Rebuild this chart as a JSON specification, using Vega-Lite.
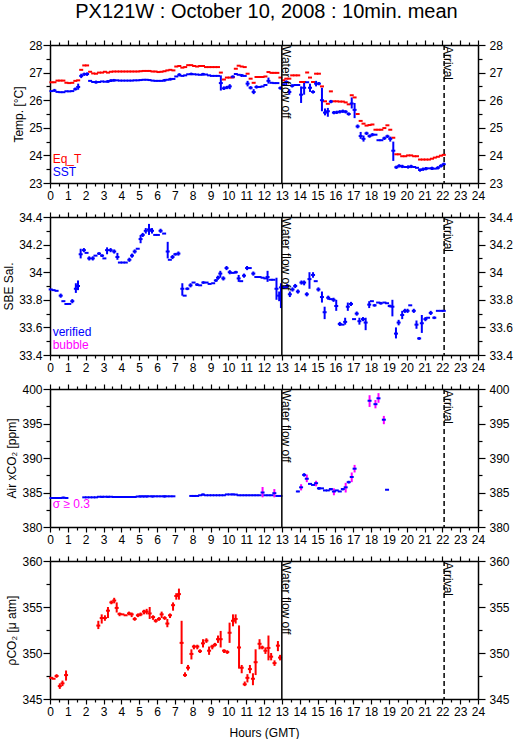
{
"$schema":"https://vega.github.io/schema/vega-lite/v6.json",
"background":"white",
"padding":{"left":2,"top":2,"right":3,"bottom":3},
"title":{"text":"PX121W : October 10, 2008 : 10min. mean","font":"Liberation Sans","fontSize":20,"fontWeight":"normal","color":"black","anchor":"middle","offset":17,"dx":9},
"bounds":"flush",
"spacing":34,
"config":{
 "view":{"stroke":null},
 "axis":{"domainColor":"black","domainWidth":1.5,"tickColor":"black","tickWidth":1.2,"labelColor":"black","titleColor":"black","labelFont":"Liberation Sans","titleFont":"Liberation Sans","labelFontSize":12,"titleFontSize":12,"titleFontWeight":"normal","grid":false,"labelOverlap":false,"labelFlush":false,"labelBound":false,"labelPadding":1,"titlePadding":3},
 "text":{"font":"Liberation Sans"}
},
"datasets":{
"events":[{"t":13,"label":"Water flow off"},{"t":22.1,"label":"Arrival"}],
"temp":[
{"t":0.08,"eq":26.65,"sst":26.33},
{"t":0.25,"eq":26.65,"sst":26.35,"lo":26.3,"hi":26.41},
{"t":0.42,"eq":26.71,"sst":26.3},
{"t":0.58,"eq":26.71,"sst":26.29},
{"t":0.75,"eq":26.71,"sst":26.29},
{"t":0.92,"eq":26.63,"sst":26.32},
{"t":1.08,"eq":26.62,"sst":26.32},
{"t":1.25,"eq":26.63,"sst":26.33},
{"t":1.42,"eq":26.7,"sst":26.4,"lo":26.35,"hi":26.46},
{"t":1.58,"eq":26.72,"sst":26.48,"lo":26.38,"hi":26.6},
{"t":1.75,"eq":27.1,"sst":26.88,"lo":26.8,"hi":26.96},
{"t":1.92,"eq":27.26,"sst":26.94,"lo":26.88,"hi":27.0},
{"t":2.08,"eq":27.26,"sst":26.95,"lo":26.88,"hi":27.01},
{"t":2.25,"eq":27.03,"sst":26.7},
{"t":2.42,"eq":26.97,"sst":26.66},
{"t":2.58,"eq":26.96,"sst":26.65,"lo":26.6,"hi":26.71},
{"t":2.75,"eq":27.0,"sst":26.66},
{"t":2.92,"eq":27.0,"sst":26.68},
{"t":3.08,"eq":27.03,"sst":26.67},
{"t":3.25,"eq":27.0,"sst":26.68,"lo":26.63,"hi":26.73},
{"t":3.42,"eq":27.03,"sst":26.71,"lo":26.66,"hi":26.76},
{"t":3.58,"eq":27.04,"sst":26.72,"lo":26.67,"hi":26.77},
{"t":3.75,"eq":27.04,"sst":26.72},
{"t":3.92,"eq":27.04,"sst":26.71},
{"t":4.08,"eq":27.04,"sst":26.71},
{"t":4.25,"eq":27.04,"sst":26.71},
{"t":4.42,"eq":27.04,"sst":26.71},
{"t":4.58,"eq":27.04,"sst":26.71},
{"t":4.75,"eq":27.04,"sst":26.72},
{"t":4.92,"eq":27.04,"sst":26.72},
{"t":5.08,"eq":27.05,"sst":26.73},
{"t":5.25,"eq":27.06,"sst":26.74},
{"t":5.42,"eq":27.06,"sst":26.74},
{"t":5.58,"eq":27.06,"sst":26.73},
{"t":5.75,"eq":27.04,"sst":26.71},
{"t":5.92,"eq":27.04,"sst":26.7},
{"t":6.08,"eq":27.02,"sst":26.7},
{"t":6.25,"eq":27.03,"sst":26.7},
{"t":6.42,"eq":27.05,"sst":26.72,"lo":26.67,"hi":26.77},
{"t":6.58,"eq":27.08,"sst":26.74},
{"t":6.75,"eq":27.1,"sst":26.76,"lo":26.71,"hi":26.81},
{"t":6.92,"eq":27.08,"sst":26.77},
{"t":7.08,"eq":27.22,"sst":26.86},
{"t":7.25,"eq":27.24,"sst":26.92,"lo":26.86,"hi":26.98},
{"t":7.42,"eq":27.18,"sst":26.88},
{"t":7.58,"eq":27.2,"sst":26.9},
{"t":7.75,"eq":27.27,"sst":26.94},
{"t":7.92,"eq":27.27,"sst":26.95,"lo":26.9,"hi":27.0},
{"t":8.08,"eq":27.24,"sst":26.94},
{"t":8.25,"eq":27.22,"sst":26.93},
{"t":8.42,"eq":27.24,"sst":26.92},
{"t":8.58,"eq":27.24,"sst":26.94,"lo":26.89,"hi":26.99},
{"t":8.75,"eq":27.2,"sst":26.93},
{"t":8.92,"eq":27.2,"sst":26.9},
{"t":9.08,"eq":27.2,"sst":26.88},
{"t":9.25,"eq":27.2,"sst":26.88},
{"t":9.42,"eq":27.2,"sst":26.88},
{"t":9.58,"eq":27.0,"sst":26.62,"lo":26.35,"hi":26.9},
{"t":9.75,"eq":26.75,"sst":26.43,"lo":26.37,"hi":26.5},
{"t":9.92,"eq":26.82,"sst":26.46,"lo":26.4,"hi":26.52},
{"t":10.08,"eq":26.82,"sst":26.5,"lo":26.4,"hi":26.58},
{"t":10.25,"eq":26.83,"sst":26.85,"lo":26.79,"hi":26.9},
{"t":10.42,"eq":27.14,"sst":26.95},
{"t":10.58,"eq":27.25,"sst":26.92},
{"t":10.75,"eq":27.22,"sst":26.9,"lo":26.84,"hi":26.95},
{"t":10.92,"eq":27.2,"sst":26.88},
{"t":11.08,"eq":26.96,"sst":26.6,"lo":26.5,"hi":26.7},
{"t":11.25,"eq":26.78,"sst":26.45,"lo":26.39,"hi":26.51},
{"t":11.42,"eq":26.63,"sst":26.3,"lo":26.22,"hi":26.4},
{"t":11.58,"eq":26.84,"sst":26.48,"lo":26.42,"hi":26.54},
{"t":11.75,"eq":26.84,"sst":26.48},
{"t":11.92,"eq":26.84,"sst":26.5},
{"t":12.08,"eq":26.86,"sst":26.55},
{"t":12.25,"eq":27.02,"sst":26.7,"lo":26.6,"hi":26.82},
{"t":12.42,"eq":26.99,"sst":26.63},
{"t":12.58,"eq":26.99,"sst":26.62},
{"t":12.75,"eq":26.99,"sst":26.62},
{"t":12.92,"eq":26.82,"sst":26.44,"lo":26.38,"hi":26.5},
{"t":13.08,"eq":26.72,"sst":26.58},
{"t":13.25,"eq":26.78,"sst":26.66,"lo":26.52,"hi":26.72},
{"t":13.42,"eq":26.78,"sst":26.3,"lo":26.2,"hi":26.4},
{"t":13.58,"eq":26.9,"sst":26.52,"lo":26.46,"hi":26.58},
{"t":13.75,"eq":26.9,"sst":26.55},
{"t":13.92,"eq":26.9,"sst":26.55},
{"t":14.08,"eq":26.66,"sst":26.2,"lo":25.9,"hi":26.5},
{"t":14.25,"eq":26.66,"sst":26.45,"lo":26.2,"hi":26.65},
{"t":14.42,"eq":27.0,"sst":26.65},
{"t":14.58,"eq":26.82,"sst":26.45,"lo":26.3,"hi":26.6},
{"t":14.75,"eq":26.66,"sst":26.3,"lo":26.24,"hi":26.36},
{"t":14.92,"eq":26.96,"sst":26.6,"lo":26.5,"hi":26.7},
{"t":15.08,"eq":26.96,"sst":26.6,"lo":26.54,"hi":26.66},
{"t":15.25,"eq":26.5,"sst":26.0,"lo":25.6,"hi":26.45},
{"t":15.42,"eq":25.96,"sst":25.55,"lo":25.45,"hi":25.7},
{"t":15.58,"eq":25.87,"sst":25.6,"lo":25.4,"hi":25.72},
{"t":15.75,"eq":26.32,"sst":25.95,"lo":25.89,"hi":26.01},
{"t":15.92,"eq":25.96,"sst":25.55,"lo":25.49,"hi":25.61},
{"t":16.08,"eq":25.96,"sst":25.56,"lo":25.5,"hi":25.62},
{"t":16.25,"eq":25.95,"sst":25.58,"lo":25.52,"hi":25.64},
{"t":16.42,"eq":25.95,"sst":25.6,"lo":25.54,"hi":25.66},
{"t":16.58,"eq":25.92,"sst":25.58,"lo":25.52,"hi":25.64},
{"t":16.75,"eq":25.85,"sst":25.5,"lo":25.44,"hi":25.56},
{"t":16.92,"eq":26.18,"sst":25.88,"lo":25.7,"hi":26.1},
{"t":17.08,"eq":26.1,"sst":25.65,"lo":25.35,"hi":25.9},
{"t":17.25,"eq":25.5,"sst":25.05,"lo":24.98,"hi":25.12},
{"t":17.42,"eq":25.25,"sst":24.7,"lo":24.6,"hi":24.85},
{"t":17.58,"eq":25.15,"sst":24.6,"lo":24.5,"hi":24.72},
{"t":17.75,"eq":25.08,"sst":24.8,"lo":24.74,"hi":24.86},
{"t":17.92,"eq":25.1,"sst":24.7,"lo":24.64,"hi":24.76},
{"t":18.08,"eq":25.12,"sst":24.75,"lo":24.69,"hi":24.81},
{"t":18.25,"eq":24.93,"sst":24.75},
{"t":18.42,"eq":24.93,"sst":24.55},
{"t":18.58,"eq":24.93,"sst":24.55},
{"t":18.75,"eq":24.99,"sst":24.62,"lo":24.56,"hi":24.68},
{"t":18.92,"eq":25.09,"sst":24.69,"lo":24.63,"hi":24.75},
{"t":19.08,"eq":24.93,"sst":24.6,"lo":24.5,"hi":24.68},
{"t":19.25,"eq":24.64,"sst":24.17,"lo":23.8,"hi":24.5},
{"t":19.42,"eq":24.04,"sst":23.57,"lo":23.51,"hi":23.63},
{"t":19.58,"eq":24.04,"sst":23.62,"lo":23.56,"hi":23.68},
{"t":19.75,"eq":23.97,"sst":23.6,"lo":23.54,"hi":23.66},
{"t":19.92,"eq":23.97,"sst":23.58},
{"t":20.08,"eq":24.0,"sst":23.58,"lo":23.52,"hi":23.64},
{"t":20.25,"eq":24.0,"sst":23.6,"lo":23.54,"hi":23.66},
{"t":20.42,"eq":23.97,"sst":23.58},
{"t":20.58,"eq":23.97,"sst":23.55},
{"t":20.75,"eq":23.85,"sst":23.47,"lo":23.41,"hi":23.53},
{"t":20.92,"eq":23.85,"sst":23.5,"lo":23.44,"hi":23.56},
{"t":21.08,"eq":23.85,"sst":23.52,"lo":23.46,"hi":23.58},
{"t":21.25,"eq":23.85,"sst":23.53},
{"t":21.42,"eq":23.88,"sst":23.53,"lo":23.47,"hi":23.59},
{"t":21.58,"eq":23.92,"sst":23.52},
{"t":21.75,"eq":23.95,"sst":23.55,"lo":23.49,"hi":23.61},
{"t":21.92,"eq":23.99,"sst":23.62,"lo":23.56,"hi":23.68},
{"t":22.08,"eq":24.02,"sst":23.68,"lo":23.62,"hi":23.74}
],
"sal":[
{"t":0.04,"v":33.875},{"t":0.2,"v":33.87},{"t":0.37,"v":33.865},
{"t":0.6,"v":33.83,"lo":33.815,"hi":33.845},{"t":0.75,"v":33.79},{"t":0.92,"v":33.77},
{"t":1.08,"v":33.77},{"t":1.25,"v":33.79,"lo":33.775,"hi":33.805},
{"t":1.45,"v":33.88,"lo":33.85,"hi":33.92},{"t":1.57,"v":33.9,"lo":33.87,"hi":33.94},
{"t":1.72,"v":34.13,"lo":34.1,"hi":34.17},{"t":1.9,"v":34.16,"lo":34.145,"hi":34.175},
{"t":2.05,"v":34.14},{"t":2.2,"v":34.1,"lo":34.085,"hi":34.115},{"t":2.4,"v":34.1,"lo":34.085,"hi":34.115},
{"t":2.55,"v":34.12},{"t":2.75,"v":34.135,"lo":34.125,"hi":34.145},{"t":2.92,"v":34.12,"lo":34.11,"hi":34.13},
{"t":3.05,"v":34.1},{"t":3.2,"v":34.16,"lo":34.13,"hi":34.18},{"t":3.4,"v":34.16,"lo":34.145,"hi":34.175},
{"t":3.6,"v":34.15,"lo":34.135,"hi":34.165},{"t":3.78,"v":34.11,"lo":34.09,"hi":34.14},
{"t":3.92,"v":34.07},{"t":4.08,"v":34.07},{"t":4.25,"v":34.07},
{"t":4.45,"v":34.09,"lo":34.075,"hi":34.105},{"t":4.6,"v":34.12,"lo":34.105,"hi":34.135},
{"t":4.75,"v":34.15,"lo":34.135,"hi":34.165},{"t":4.92,"v":34.17},
{"t":5.08,"v":34.24,"lo":34.21,"hi":34.27},{"t":5.2,"v":34.27,"lo":34.255,"hi":34.285},
{"t":5.37,"v":34.3,"lo":34.28,"hi":34.32},{"t":5.55,"v":34.31,"lo":34.27,"hi":34.35},
{"t":5.72,"v":34.3,"lo":34.28,"hi":34.32},{"t":5.9,"v":34.27},{"t":6.05,"v":34.27},
{"t":6.2,"v":34.3,"lo":34.285,"hi":34.315},{"t":6.4,"v":34.28},
{"t":6.6,"v":34.15,"lo":34.1,"hi":34.22},{"t":6.72,"v":34.09},
{"t":6.87,"v":34.11,"lo":34.095,"hi":34.125},{"t":7.03,"v":34.13,"lo":34.12,"hi":34.14},
{"t":7.2,"v":34.135,"lo":34.12,"hi":34.15},{"t":7.42,"v":33.88,"lo":33.83,"hi":33.92},
{"t":7.55,"v":33.83},{"t":7.7,"v":33.88,"lo":33.87,"hi":33.89},{"t":7.88,"v":33.905,"lo":33.89,"hi":33.92},
{"t":8.05,"v":33.925},{"t":8.25,"v":33.91,"lo":33.9,"hi":33.92},{"t":8.42,"v":33.905},
{"t":8.6,"v":33.925,"lo":33.915,"hi":33.935},{"t":8.78,"v":33.925},{"t":8.95,"v":33.915},
{"t":9.15,"v":33.92},{"t":9.3,"v":33.94,"lo":33.93,"hi":33.95},{"t":9.42,"v":33.96,"lo":33.945,"hi":33.975},
{"t":9.55,"v":33.99,"lo":33.96,"hi":34.01},{"t":9.72,"v":33.955,"lo":33.94,"hi":33.97},
{"t":9.9,"v":34.03,"lo":34.015,"hi":34.045},{"t":10.08,"v":34.0,"lo":33.985,"hi":34.015},
{"t":10.25,"v":33.995},{"t":10.42,"v":34.0,"lo":33.99,"hi":34.01},{"t":10.58,"v":33.955,"lo":33.93,"hi":33.98},
{"t":10.72,"v":33.935},{"t":10.88,"v":33.975,"lo":33.96,"hi":33.99},{"t":11.05,"v":34.03,"lo":34.015,"hi":34.045},
{"t":11.2,"v":34.03},{"t":11.4,"v":33.99,"lo":33.975,"hi":34.005},{"t":11.57,"v":33.965},
{"t":11.75,"v":33.965},{"t":11.92,"v":33.96},{"t":12.08,"v":33.955},
{"t":12.2,"v":33.965,"lo":33.93,"hi":34.01},{"t":12.37,"v":33.945},{"t":12.53,"v":33.945},
{"t":12.7,"v":33.88,"lo":33.8,"hi":33.96},{"t":12.85,"v":33.83,"lo":33.79,"hi":33.86},
{"t":12.95,"v":33.89,"lo":33.74,"hi":33.92},{"t":13.08,"v":33.89,"lo":33.88,"hi":33.9},
{"t":13.2,"v":33.89},{"t":13.3,"v":33.9,"lo":33.885,"hi":33.915},{"t":13.45,"v":33.84,"lo":33.82,"hi":33.86},
{"t":13.6,"v":33.875,"lo":33.86,"hi":33.89},{"t":13.75,"v":33.9,"lo":33.885,"hi":33.915},
{"t":13.9,"v":33.86,"lo":33.845,"hi":33.875},{"t":14.1,"v":33.925,"lo":33.91,"hi":33.94},
{"t":14.25,"v":33.925,"lo":33.905,"hi":33.94},{"t":14.4,"v":33.84,"lo":33.825,"hi":33.855},
{"t":14.55,"v":33.95,"lo":33.88,"hi":34.0},{"t":14.75,"v":33.98,"lo":33.96,"hi":34.0},
{"t":14.9,"v":33.935},{"t":15.05,"v":33.875,"lo":33.86,"hi":33.89},
{"t":15.25,"v":33.82,"lo":33.78,"hi":33.86},{"t":15.4,"v":33.71,"lo":33.66,"hi":33.75},
{"t":15.6,"v":33.815,"lo":33.8,"hi":33.83},{"t":15.75,"v":33.805},
{"t":15.9,"v":33.8,"lo":33.785,"hi":33.815},{"t":16.05,"v":33.755,"lo":33.72,"hi":33.8},
{"t":16.25,"v":33.625,"lo":33.61,"hi":33.64},{"t":16.4,"v":33.62},
{"t":16.55,"v":33.64,"lo":33.62,"hi":33.67},{"t":16.7,"v":33.75,"lo":33.72,"hi":33.78},
{"t":16.88,"v":33.77,"lo":33.755,"hi":33.785},{"t":17.05,"v":33.66},
{"t":17.2,"v":33.7,"lo":33.685,"hi":33.715},{"t":17.35,"v":33.645,"lo":33.62,"hi":33.67},
{"t":17.55,"v":33.66,"lo":33.645,"hi":33.675},{"t":17.7,"v":33.635,"lo":33.58,"hi":33.67},
{"t":17.9,"v":33.765,"lo":33.74,"hi":33.79},{"t":18.05,"v":33.79},
{"t":18.2,"v":33.76,"lo":33.75,"hi":33.77},{"t":18.4,"v":33.78},
{"t":18.55,"v":33.775,"lo":33.765,"hi":33.785},{"t":18.75,"v":33.78},{"t":18.9,"v":33.775},
{"t":19.05,"v":33.755,"lo":33.745,"hi":33.765},{"t":19.2,"v":33.75,"lo":33.68,"hi":33.8},
{"t":19.4,"v":33.555,"lo":33.52,"hi":33.6},{"t":19.55,"v":33.635,"lo":33.615,"hi":33.655},
{"t":19.75,"v":33.69,"lo":33.66,"hi":33.72},{"t":19.9,"v":33.72,"lo":33.705,"hi":33.735},
{"t":20.05,"v":33.72,"lo":33.705,"hi":33.735},{"t":20.2,"v":33.76},
{"t":20.4,"v":33.72,"lo":33.705,"hi":33.735},{"t":20.55,"v":33.62,"lo":33.59,"hi":33.65},
{"t":20.7,"v":33.52,"lo":33.51,"hi":33.53},{"t":20.85,"v":33.63,"lo":33.56,"hi":33.69},
{"t":21.05,"v":33.66,"lo":33.645,"hi":33.675},{"t":21.2,"v":33.67},
{"t":21.35,"v":33.705,"lo":33.69,"hi":33.72},{"t":21.55,"v":33.67,"lo":33.66,"hi":33.68},
{"t":21.75,"v":33.72},{"t":21.95,"v":33.72},{"t":22.08,"v":33.72}
],
"air":[
{"t":0.08,"v":384.2},{"t":0.25,"v":384.2},{"t":0.42,"v":384.2},{"t":0.58,"v":384.2},{"t":0.75,"v":384.25,"lo":384.1,"hi":384.4},{"t":0.92,"v":384.2},
{"t":1.92,"v":384.3},{"t":2.08,"v":384.3},{"t":2.25,"v":384.3},{"t":2.42,"v":384.3},{"t":2.58,"v":384.3},
{"t":2.75,"v":384.38},{"t":2.92,"v":384.38,"lo":384.2,"hi":384.5},{"t":3.08,"v":384.38},{"t":3.25,"v":384.38,"lo":384.2,"hi":384.5},{"t":3.42,"v":384.38},{"t":3.58,"v":384.35},{"t":3.75,"v":384.35},{"t":3.92,"v":384.35},{"t":4.08,"v":384.35},{"t":4.25,"v":384.35},{"t":4.42,"v":384.35},{"t":4.58,"v":384.35},{"t":4.75,"v":384.35,"lo":384.2,"hi":384.45},{"t":4.92,"v":384.42},
{"t":5.08,"v":384.45,"lo":384.25,"hi":384.55},{"t":5.25,"v":384.45,"lo":384.25,"hi":384.55},{"t":5.42,"v":384.45,"lo":384.25,"hi":384.55},{"t":5.58,"v":384.45},{"t":5.75,"v":384.45,"lo":384.25,"hi":384.55},{"t":5.92,"v":384.45},{"t":6.08,"v":384.45},{"t":6.25,"v":384.45},{"t":6.42,"v":384.45,"lo":384.25,"hi":384.6},{"t":6.58,"v":384.45},{"t":6.75,"v":384.45},{"t":6.92,"v":384.45},
{"t":7.92,"v":384.5},{"t":8.08,"v":384.5,"lo":384.35,"hi":384.6},{"t":8.25,"v":384.5},{"t":8.42,"v":384.6},{"t":8.58,"v":384.7,"lo":384.55,"hi":384.85},{"t":8.75,"v":384.6},{"t":8.92,"v":384.6},{"t":9.08,"v":384.6},{"t":9.25,"v":384.6},{"t":9.42,"v":384.6},{"t":9.58,"v":384.6},{"t":9.75,"v":384.6},{"t":9.92,"v":384.72},{"t":10.08,"v":384.72},{"t":10.25,"v":384.72,"lo":384.6,"hi":384.85},{"t":10.42,"v":384.7},{"t":10.58,"v":384.6},{"t":10.75,"v":384.6},{"t":10.92,"v":384.6},{"t":11.08,"v":384.6},{"t":11.25,"v":384.6},{"t":11.42,"v":384.6},{"t":11.58,"v":384.6},{"t":11.75,"v":384.6},
{"t":11.92,"v":385.0,"lo":384.3,"hi":385.8},{"t":12.08,"v":384.6},{"t":12.25,"v":384.6},{"t":12.42,"v":384.6},{"t":12.58,"v":384.9,"lo":384.3,"hi":385.5},{"t":12.75,"v":384.5},{"t":12.92,"v":384.5},
{"t":13.9,"v":385.15,"lo":385.05,"hi":385.25},{"t":14.08,"v":385.75,"lo":385.3,"hi":386.2},{"t":14.25,"v":387.55,"lo":387.3,"hi":387.8},{"t":14.4,"v":387.0,"lo":386.5,"hi":387.6},{"t":14.58,"v":386.25},{"t":14.75,"v":386.1},{"t":14.92,"v":386.35,"lo":385.9,"hi":386.7},{"t":15.08,"v":385.6,"lo":385.4,"hi":385.8},{"t":15.25,"v":385.6},{"t":15.42,"v":385.3},{"t":15.58,"v":385.3},{"t":15.75,"v":385.5,"lo":385.3,"hi":385.6},{"t":15.92,"v":385.15,"lo":384.6,"hi":385.6},{"t":16.08,"v":385.3},{"t":16.25,"v":385.15},{"t":16.42,"v":385.5,"lo":385.3,"hi":385.6},{"t":16.58,"v":385.75,"lo":385.0,"hi":386.4},{"t":16.75,"v":386.5,"lo":386.3,"hi":386.7},{"t":16.92,"v":387.25,"lo":386.5,"hi":387.9},{"t":17.08,"v":388.45,"lo":387.9,"hi":389.0},
{"t":17.92,"v":398.3,"lo":397.4,"hi":399.1},{"t":18.25,"v":397.8,"lo":397.2,"hi":398.4},{"t":18.42,"v":398.65,"lo":398.0,"hi":399.4},{"t":18.72,"v":395.55,"lo":394.9,"hi":396.1},{"t":18.9,"v":385.4}
],
"pco2":[
{"t":0.07,"v":347.3},{"t":0.2,"v":347.2},{"t":0.37,"v":347.5,"lo":347.3,"hi":347.7},{"t":0.55,"v":346.4,"lo":346.1,"hi":346.7},{"t":0.7,"v":346.7,"lo":346.4,"hi":347.0},{"t":0.9,"v":347.6,"lo":347.0,"hi":348.1},
{"t":2.71,"v":352.98,"lo":352.6,"hi":353.5},{"t":2.9,"v":353.8,"lo":353.2,"hi":354.2},{"t":3.08,"v":353.8,"lo":353.5,"hi":354.1},{"t":3.25,"v":354.6,"lo":353.8,"hi":355.0},{"t":3.44,"v":355.5,"lo":355.3,"hi":355.7},{"t":3.6,"v":355.7,"lo":355.4,"hi":356.0},{"t":3.74,"v":354.9,"lo":354.4,"hi":355.5},{"t":3.9,"v":354.25,"lo":354.0,"hi":354.4},
{"t":4.06,"v":354.2},{"t":4.24,"v":354.1},{"t":4.43,"v":354.3,"lo":354.1,"hi":354.5},{"t":4.58,"v":354.2,"lo":353.9,"hi":354.4},{"t":4.75,"v":353.7,"lo":353.5,"hi":353.9},{"t":4.93,"v":354.1,"lo":353.9,"hi":354.3},
{"t":5.08,"v":354.2,"lo":354.0,"hi":354.4},{"t":5.27,"v":354.5,"lo":354.2,"hi":354.7},{"t":5.42,"v":354.5,"lo":354.2,"hi":354.8},{"t":5.59,"v":354.3,"lo":353.7,"hi":355.0},{"t":5.78,"v":353.9,"lo":353.6,"hi":354.1},{"t":5.93,"v":353.5,"lo":353.3,"hi":353.7},
{"t":6.11,"v":353.7,"lo":353.5,"hi":353.9},{"t":6.26,"v":354.2,"lo":353.8,"hi":354.5},{"t":6.43,"v":353.8,"lo":353.6,"hi":354.0},{"t":6.58,"v":353.2,"lo":352.8,"hi":353.7},{"t":6.73,"v":354.1,"lo":353.8,"hi":354.3},{"t":6.9,"v":355.2,"lo":354.6,"hi":355.5},
{"t":7.08,"v":356.2,"lo":355.8,"hi":356.5},{"t":7.23,"v":356.4,"lo":355.8,"hi":357.0},{"t":7.38,"v":351.1,"lo":348.8,"hi":353.5},{"t":7.57,"v":347.6,"lo":347.4,"hi":347.9},{"t":7.74,"v":348.4,"lo":348.1,"hi":348.7},{"t":7.93,"v":349.9,"lo":349.3,"hi":350.4},
{"t":8.07,"v":350.7,"lo":350.4,"hi":350.9},{"t":8.26,"v":350.7,"lo":350.4,"hi":350.9},{"t":8.41,"v":350.2,"lo":350.0,"hi":350.4},{"t":8.58,"v":351.05,"lo":350.6,"hi":351.5},{"t":8.77,"v":351.35,"lo":351.1,"hi":351.6},{"t":8.92,"v":350.25,"lo":349.8,"hi":350.7},
{"t":9.1,"v":350.7,"lo":350.4,"hi":350.9},{"t":9.25,"v":350.9,"lo":350.7,"hi":351.1},{"t":9.42,"v":351.5,"lo":351.1,"hi":351.9},{"t":9.57,"v":351.5,"lo":350.6,"hi":352.4},{"t":9.76,"v":350.25,"lo":350.0,"hi":350.4},{"t":9.94,"v":350.1,"lo":349.9,"hi":350.3},
{"t":10.07,"v":352.2,"lo":351.1,"hi":353.3},{"t":10.26,"v":353.5,"lo":352.9,"hi":354.2},{"t":10.41,"v":353.7,"lo":353.2,"hi":354.2},{"t":10.6,"v":350.6,"lo":348.3,"hi":353.0},{"t":10.75,"v":348.4,"lo":347.8,"hi":348.7},{"t":10.92,"v":346.6,"lo":346.4,"hi":346.9},
{"t":11.07,"v":347.3,"lo":346.8,"hi":347.7},{"t":11.21,"v":348.25,"lo":347.8,"hi":348.7},{"t":11.38,"v":347.2,"lo":346.5,"hi":347.8},{"t":11.53,"v":349.0,"lo":347.6,"hi":350.4},{"t":11.75,"v":351.0,"lo":350.4,"hi":351.5},{"t":11.9,"v":350.6,"lo":350.4,"hi":350.8},
{"t":12.08,"v":350.25,"lo":349.9,"hi":350.6},{"t":12.25,"v":350.55,"lo":349.2,"hi":351.9},{"t":12.4,"v":349.6,"lo":349.2,"hi":350.0},{"t":12.59,"v":348.9,"lo":348.6,"hi":349.2},{"t":12.78,"v":350.8,"lo":350.2,"hi":351.3},{"t":12.9,"v":349.5,"lo":349.2,"hi":349.8}
]
},
"vconcat":[
{
 "width":428,"height":138,
 "layer":[
  {"data":{"name":"temp"},"transform":[{"filter":"isValid(datum.lo)"}],"mark":{"type":"rule","color":"#0000ff","strokeWidth":2},
   "encoding":{"x":{"field":"t","type":"quantitative","scale":{"domain":[0,24],"nice":false,"zero":false},"axis":null},
    "y":{"field":"lo","type":"quantitative","scale":{"domain":[23,28],"nice":false,"zero":false},"axis":null},"y2":{"field":"hi"}}},
  {"data":{"name":"temp"},"mark":{"type":"tick","orient":"horizontal","color":"#ff0000","size":4,"thickness":2,"opacity":1},
   "encoding":{"x":{"field":"t","type":"quantitative","scale":{"domain":[0,24],"nice":false,"zero":false},
     "axis":{"orient":"bottom","values":[0,0.5,1,1.5,2,2.5,3,3.5,4,4.5,5,5.5,6,6.5,7,7.5,8,8.5,9,9.5,10,10.5,11,11.5,12,12.5,13,13.5,14,14.5,15,15.5,16,16.5,17,17.5,18,18.5,19,19.5,20,20.5,21,21.5,22,22.5,23,23.5,24],"labelExpr":"datum.value % 1 == 0 ? format(datum.value,'d') : ''","tickSize":{"condition":{"test":"datum.value % 1 == 0","value":5},"value":3},"title":null,"labelPadding":2}},
    "y":{"field":"eq","type":"quantitative","scale":{"domain":[23,28],"nice":false,"zero":false},
     "axis":{"orient":"left","values":[23,23.5,24,24.5,25,25.5,26,26.5,27,27.5,28],"labelExpr":"datum.value % 1 == 0 ? format(datum.value,'d') : ''","tickSize":{"condition":{"test":"datum.value % 1 == 0","value":7},"value":4},"title":"Temp. [°C]"}}}},
  {"data":{"name":"temp"},"mark":{"type":"tick","orient":"horizontal","color":"#0000ff","size":4,"thickness":2,"opacity":1},
   "encoding":{"x":{"field":"t","type":"quantitative","scale":{"domain":[0,24],"nice":false,"zero":false},
     "axis":{"orient":"top","values":[0,0.5,1,1.5,2,2.5,3,3.5,4,4.5,5,5.5,6,6.5,7,7.5,8,8.5,9,9.5,10,10.5,11,11.5,12,12.5,13,13.5,14,14.5,15,15.5,16,16.5,17,17.5,18,18.5,19,19.5,20,20.5,21,21.5,22,22.5,23,23.5,24],"labels":false,"tickSize":{"condition":{"test":"datum.value % 1 == 0","value":5},"value":3},"title":null}},
    "y":{"field":"sst","type":"quantitative","scale":{"domain":[23,28],"nice":false,"zero":false},
     "axis":{"orient":"right","values":[23,23.5,24,24.5,25,25.5,26,26.5,27,27.5,28],"labelExpr":"datum.value % 1 == 0 ? format(datum.value,'d') : ''","tickSize":{"condition":{"test":"datum.value % 1 == 0","value":7},"value":4},"title":null,"labelPadding":4}}}},
  {"data":{"name":"events"},"mark":{"type":"rule","color":"black","strokeWidth":1.5},
   "encoding":{"x":{"field":"t","type":"quantitative","scale":{"domain":[0,24],"nice":false,"zero":false},"axis":null},
    "strokeDash":{"condition":{"test":"datum.label == 'Arrival'","value":[5,3]},"value":[1,0]}}},
  {"data":{"name":"events"},"mark":{"type":"text","angle":90,"align":"left","baseline":"alphabetic","fontSize":12,"color":"black","dx":1},
   "encoding":{"x":{"field":"t","type":"quantitative","scale":{"domain":[0,24],"nice":false,"zero":false},"axis":null},
    "y":{"datum":28,"type":"quantitative","scale":{"domain":[23,28],"nice":false,"zero":false},"axis":null},"text":{"field":"label"}}},
  {"data":{"values":[{"t":0.15,"v":23.86,"label":"Eq_T"},{"t":0.15,"v":23.39,"label":"SST"}]},"mark":{"type":"text","align":"left","baseline":"middle","fontSize":12},
   "encoding":{"x":{"field":"t","type":"quantitative","scale":{"domain":[0,24],"nice":false,"zero":false},"axis":null},
    "y":{"field":"v","type":"quantitative","scale":{"domain":[23,28],"nice":false,"zero":false},"axis":null},"text":{"field":"label"},
    "color":{"condition":{"test":"datum.label == 'SST'","value":"#0000ff"},"value":"#ff0000"}}}
 ],
 "resolve":{"axis":{"x":"independent","y":"independent"}}
},
{
 "width":428,"height":138,
 "layer":[
  {"data":{"name":"sal"},"transform":[{"filter":"isValid(datum.lo)"}],"mark":{"type":"rule","color":"#0000ff","strokeWidth":2},
   "encoding":{"x":{"field":"t","type":"quantitative","scale":{"domain":[0,24],"nice":false,"zero":false},
     "axis":{"orient":"top","values":[0,0.5,1,1.5,2,2.5,3,3.5,4,4.5,5,5.5,6,6.5,7,7.5,8,8.5,9,9.5,10,10.5,11,11.5,12,12.5,13,13.5,14,14.5,15,15.5,16,16.5,17,17.5,18,18.5,19,19.5,20,20.5,21,21.5,22,22.5,23,23.5,24],"labels":false,"tickSize":{"condition":{"test":"datum.value % 1 == 0","value":5},"value":3},"title":null}},
    "y":{"field":"lo","type":"quantitative","scale":{"domain":[33.4,34.4],"nice":false,"zero":false},
     "axis":{"orient":"right","values":[33.4,33.5,33.6,33.7,33.8,33.9,34,34.1,34.2,34.3,34.4],"labelExpr":"abs(datum.value*5 - round(datum.value*5)) < 0.01 ? format(datum.value,'.4~r') : ''","tickSize":{"condition":{"test":"abs(datum.value*5 - round(datum.value*5)) < 0.01","value":7},"value":4},"title":null,"labelPadding":4}},
    "y2":{"field":"hi"}}},
  {"data":{"name":"sal"},"mark":{"type":"tick","orient":"horizontal","color":"#0000ff","size":4,"thickness":2,"opacity":1},
   "encoding":{"x":{"field":"t","type":"quantitative","scale":{"domain":[0,24],"nice":false,"zero":false},
     "axis":{"orient":"bottom","values":[0,0.5,1,1.5,2,2.5,3,3.5,4,4.5,5,5.5,6,6.5,7,7.5,8,8.5,9,9.5,10,10.5,11,11.5,12,12.5,13,13.5,14,14.5,15,15.5,16,16.5,17,17.5,18,18.5,19,19.5,20,20.5,21,21.5,22,22.5,23,23.5,24],"labelExpr":"datum.value % 1 == 0 ? format(datum.value,'d') : ''","tickSize":{"condition":{"test":"datum.value % 1 == 0","value":5},"value":3},"title":null,"labelPadding":2}},
    "y":{"field":"v","type":"quantitative","scale":{"domain":[33.4,34.4],"nice":false,"zero":false},
     "axis":{"orient":"left","values":[33.4,33.5,33.6,33.7,33.8,33.9,34,34.1,34.2,34.3,34.4],"labelExpr":"abs(datum.value*5 - round(datum.value*5)) < 0.01 ? format(datum.value,'.4~r') : ''","tickSize":{"condition":{"test":"abs(datum.value*5 - round(datum.value*5)) < 0.01","value":7},"value":4},"title":"SBE Sal."}}}},
  {"data":{"name":"events"},"mark":{"type":"rule","color":"black","strokeWidth":1.5},
   "encoding":{"x":{"field":"t","type":"quantitative","scale":{"domain":[0,24],"nice":false,"zero":false},"axis":null},
    "strokeDash":{"condition":{"test":"datum.label == 'Arrival'","value":[5,3]},"value":[1,0]}}},
  {"data":{"name":"events"},"mark":{"type":"text","angle":90,"align":"left","baseline":"alphabetic","fontSize":12,"color":"black","dx":1},
   "encoding":{"x":{"field":"t","type":"quantitative","scale":{"domain":[0,24],"nice":false,"zero":false},"axis":null},
    "y":{"datum":34.4,"type":"quantitative","scale":{"domain":[33.4,34.4],"nice":false,"zero":false},"axis":null},"text":{"field":"label"}}},
  {"data":{"values":[{"t":0.15,"v":33.566,"label":"verified"},{"t":0.15,"v":33.472,"label":"bubble"}]},"mark":{"type":"text","align":"left","baseline":"middle","fontSize":12},
   "encoding":{"x":{"field":"t","type":"quantitative","scale":{"domain":[0,24],"nice":false,"zero":false},"axis":null},
    "y":{"field":"v","type":"quantitative","scale":{"domain":[33.4,34.4],"nice":false,"zero":false},"axis":null},"text":{"field":"label"},
    "color":{"condition":{"test":"datum.label == 'bubble'","value":"#ff00ff"},"value":"#0000ff"}}}
 ],
 "resolve":{"axis":{"x":"independent","y":"independent"}}
},
{
 "width":428,"height":138,
 "layer":[
  {"data":{"name":"air"},"transform":[{"filter":"isValid(datum.lo)"}],"mark":{"type":"rule","strokeWidth":2},
   "encoding":{"x":{"field":"t","type":"quantitative","scale":{"domain":[0,24],"nice":false,"zero":false},
     "axis":{"orient":"top","values":[0,0.5,1,1.5,2,2.5,3,3.5,4,4.5,5,5.5,6,6.5,7,7.5,8,8.5,9,9.5,10,10.5,11,11.5,12,12.5,13,13.5,14,14.5,15,15.5,16,16.5,17,17.5,18,18.5,19,19.5,20,20.5,21,21.5,22,22.5,23,23.5,24],"labels":false,"tickSize":{"condition":{"test":"datum.value % 1 == 0","value":5},"value":3},"title":null}},
    "y":{"field":"lo","type":"quantitative","scale":{"domain":[380,400],"nice":false,"zero":false},
     "axis":{"orient":"right","values":[380,382.5,385,387.5,390,392.5,395,397.5,400],"labelExpr":"datum.value % 5 == 0 ? format(datum.value,'d') : ''","tickSize":{"condition":{"test":"datum.value % 5 == 0","value":7},"value":4},"title":null,"labelPadding":4}},
    "y2":{"field":"hi"},
    "color":{"condition":{"test":"datum.hi - datum.lo >= 0.6","value":"#ff00ff"},"value":"#0000ff"}}},
  {"data":{"name":"air"},"mark":{"type":"tick","orient":"horizontal","color":"#0000ff","size":4,"thickness":2,"opacity":1},
   "encoding":{"x":{"field":"t","type":"quantitative","scale":{"domain":[0,24],"nice":false,"zero":false},
     "axis":{"orient":"bottom","values":[0,0.5,1,1.5,2,2.5,3,3.5,4,4.5,5,5.5,6,6.5,7,7.5,8,8.5,9,9.5,10,10.5,11,11.5,12,12.5,13,13.5,14,14.5,15,15.5,16,16.5,17,17.5,18,18.5,19,19.5,20,20.5,21,21.5,22,22.5,23,23.5,24],"labelExpr":"datum.value % 1 == 0 ? format(datum.value,'d') : ''","tickSize":{"condition":{"test":"datum.value % 1 == 0","value":5},"value":3},"title":null,"labelPadding":2}},
    "y":{"field":"v","type":"quantitative","scale":{"domain":[380,400],"nice":false,"zero":false},
     "axis":{"orient":"left","values":[380,382.5,385,387.5,390,392.5,395,397.5,400],"labelExpr":"datum.value % 5 == 0 ? format(datum.value,'d') : ''","tickSize":{"condition":{"test":"datum.value % 5 == 0","value":7},"value":4},"title":"Air xCO₂ [ppm]"}}}},
  {"data":{"name":"events"},"mark":{"type":"rule","color":"black","strokeWidth":1.5},
   "encoding":{"x":{"field":"t","type":"quantitative","scale":{"domain":[0,24],"nice":false,"zero":false},"axis":null},
    "strokeDash":{"condition":{"test":"datum.label == 'Arrival'","value":[5,3]},"value":[1,0]}}},
  {"data":{"name":"events"},"mark":{"type":"text","angle":90,"align":"left","baseline":"alphabetic","fontSize":12,"color":"black","dx":1},
   "encoding":{"x":{"field":"t","type":"quantitative","scale":{"domain":[0,24],"nice":false,"zero":false},"axis":null},
    "y":{"datum":400,"type":"quantitative","scale":{"domain":[380,400],"nice":false,"zero":false},"axis":null},"text":{"field":"label"}}},
  {"data":{"values":[{"t":0.15,"v":383.4,"label":"σ ≥ 0.3"}]},"mark":{"type":"text","align":"left","baseline":"middle","fontSize":12,"color":"#ff00ff"},
   "encoding":{"x":{"field":"t","type":"quantitative","scale":{"domain":[0,24],"nice":false,"zero":false},"axis":null},
    "y":{"field":"v","type":"quantitative","scale":{"domain":[380,400],"nice":false,"zero":false},"axis":null},"text":{"field":"label"}}}
 ],
 "resolve":{"axis":{"x":"independent","y":"independent"}}
},
{
 "width":428,"height":138,
 "layer":[
  {"data":{"name":"pco2"},"transform":[{"filter":"isValid(datum.lo)"}],"mark":{"type":"rule","color":"#ff0000","strokeWidth":2},
   "encoding":{"x":{"field":"t","type":"quantitative","scale":{"domain":[0,24],"nice":false,"zero":false},
     "axis":{"orient":"top","values":[0,0.5,1,1.5,2,2.5,3,3.5,4,4.5,5,5.5,6,6.5,7,7.5,8,8.5,9,9.5,10,10.5,11,11.5,12,12.5,13,13.5,14,14.5,15,15.5,16,16.5,17,17.5,18,18.5,19,19.5,20,20.5,21,21.5,22,22.5,23,23.5,24],"labels":false,"tickSize":{"condition":{"test":"datum.value % 1 == 0","value":5},"value":3},"title":null}},
    "y":{"field":"lo","type":"quantitative","scale":{"domain":[345,360],"nice":false,"zero":false},
     "axis":{"orient":"right","values":[345,347.5,350,352.5,355,357.5,360],"labelExpr":"datum.value % 5 == 0 ? format(datum.value,'d') : ''","tickSize":{"condition":{"test":"datum.value % 5 == 0","value":7},"value":4},"title":null,"labelPadding":4}},
    "y2":{"field":"hi"}}},
  {"data":{"name":"pco2"},"mark":{"type":"tick","orient":"horizontal","color":"#ff0000","size":4,"thickness":2,"opacity":1},
   "encoding":{"x":{"field":"t","type":"quantitative","scale":{"domain":[0,24],"nice":false,"zero":false},
     "axis":{"orient":"bottom","values":[0,0.5,1,1.5,2,2.5,3,3.5,4,4.5,5,5.5,6,6.5,7,7.5,8,8.5,9,9.5,10,10.5,11,11.5,12,12.5,13,13.5,14,14.5,15,15.5,16,16.5,17,17.5,18,18.5,19,19.5,20,20.5,21,21.5,22,22.5,23,23.5,24],"labelExpr":"datum.value % 1 == 0 ? format(datum.value,'d') : ''","tickSize":{"condition":{"test":"datum.value % 1 == 0","value":5},"value":3},"title":"Hours (GMT)","labelPadding":2,"titlePadding":10}},
    "y":{"field":"v","type":"quantitative","scale":{"domain":[345,360],"nice":false,"zero":false},
     "axis":{"orient":"left","values":[345,347.5,350,352.5,355,357.5,360],"labelExpr":"datum.value % 5 == 0 ? format(datum.value,'d') : ''","tickSize":{"condition":{"test":"datum.value % 5 == 0","value":7},"value":4},"title":"ρCO₂ [μ atm]"}}}},
  {"data":{"name":"events"},"mark":{"type":"rule","color":"black","strokeWidth":1.5},
   "encoding":{"x":{"field":"t","type":"quantitative","scale":{"domain":[0,24],"nice":false,"zero":false},"axis":null},
    "strokeDash":{"condition":{"test":"datum.label == 'Arrival'","value":[5,3]},"value":[1,0]}}},
  {"data":{"name":"events"},"mark":{"type":"text","angle":90,"align":"left","baseline":"alphabetic","fontSize":12,"color":"black","dx":1},
   "encoding":{"x":{"field":"t","type":"quantitative","scale":{"domain":[0,24],"nice":false,"zero":false},"axis":null},
    "y":{"datum":360,"type":"quantitative","scale":{"domain":[345,360],"nice":false,"zero":false},"axis":null},"text":{"field":"label"}}}
 ],
 "resolve":{"axis":{"x":"independent","y":"independent"}}
}
]
}
